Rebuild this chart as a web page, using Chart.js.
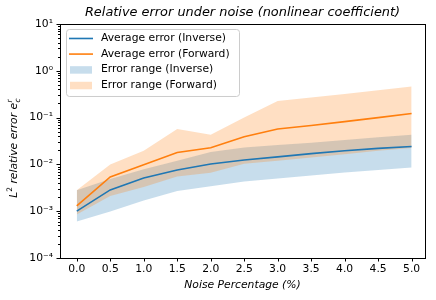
<!DOCTYPE html>
<html>
<head>
<meta charset="utf-8">
<script src="https://cdn.jsdelivr.net/npm/chart.js@4/dist/chart.umd.min.js"></script>
<style>
  html, body { margin: 0; padding: 0; background: #fff; }
</style>
</head>
<body>
<canvas id="chart" width="436" height="300"></canvas>
<script>
// =======================
// DATA
// =======================
const noise = [0, 0.5, 1.0, 1.5, 2.0, 2.5, 3.0, 3.5, 4.0, 4.5, 5.0];
const xTickLabels = ['0.0', '0.5', '1.0', '1.5', '2.0', '2.5', '3.0', '3.5', '4.0', '4.5', '5.0'];

const invMean  = [1.0e-3, 2.85e-3, 5.1e-3, 7.6e-3, 1.02e-2, 1.24e-2, 1.45e-2, 1.7e-2, 1.95e-2, 2.2e-2, 2.42e-2];
const invUpper = [2.8e-3, 4.9e-3, 7.9e-3, 1.2e-2, 1.85e-2, 2.3e-2, 2.6e-2, 2.9e-2, 3.3e-2, 3.8e-2, 4.3e-2];
const invLower = [6.0e-4, 9.8e-4, 1.7e-3, 2.7e-3, 3.4e-3, 4.3e-3, 5.0e-3, 5.8e-3, 6.7e-3, 7.6e-3, 8.6e-3];

const fwdMean  = [1.3e-3, 5.4e-3, 9.8e-3, 1.8e-2, 2.27e-2, 3.9e-2, 5.7e-2, 6.8e-2, 8.2e-2, 1.0e-1, 1.22e-1];
const fwdUpper = [2.8e-3, 1.0e-2, 1.95e-2, 5.7e-2, 4.3e-2, 1.0e-1, 2.25e-1, 2.7e-1, 3.2e-1, 3.85e-1, 4.6e-1];
const fwdLower = [8.5e-4, 2.1e-3, 3.3e-3, 5.5e-3, 6.6e-3, 1.03e-2, 1.2e-2, 1.4e-2, 1.65e-2, 1.95e-2, 2.25e-2];

const yTickValues = [1e-4, 1e-3, 1e-2, 1e-1, 1e0, 1e1];
const yTickLabels = ['10\u207B\u2074', '10\u207B\u00B3', '10\u207B\u00B2', '10\u207B\u00B9', '10\u2070', '10\u00B9'];

const BLUE = '#1f77b4';
const ORANGE = '#ff7f0e';
const BLUE_FILL = 'rgba(31,119,180,0.25)';
const ORANGE_FILL = 'rgba(255,127,14,0.25)';
const FONT = "'DejaVu Sans', sans-serif";
const FS = 10.75;   // base font size
const SS = 7.5;     // sub/superscript size

function pts(arr) {
    return noise.map((x, i) => ({ x: x, y: arr[i] }));
}

// =======================
// PLUGINS: frame, ticks, legend, y title
// =======================
const decor = {
    id: 'decor',
    afterDraw(chart) {
        const ctx = chart.ctx;
        const a = chart.chartArea;
        const xs = chart.scales.x, ys = chart.scales.y;
        ctx.save();
        ctx.strokeStyle = '#000';
        ctx.lineWidth = 1;

        // tick marks (major longer than minor)
        ctx.beginPath();
        xs.ticks.forEach(t => {
            const px = Math.round(xs.getPixelForValue(t.value)) + 0.5;
            ctx.moveTo(px, a.bottom);
            ctx.lineTo(px, a.bottom + 3.5);
        });
        ys.ticks.forEach(t => {
            const py = Math.round(ys.getPixelForValue(t.value)) + 0.5;
            const len = t.major ? 3.5 : 2;
            ctx.moveTo(a.left - len, py);
            ctx.lineTo(a.left, py);
        });
        ctx.stroke();

        // frame
        ctx.strokeRect(Math.round(a.left) + 0.5, Math.round(a.top) + 0.5,
            Math.round(a.right - a.left), Math.round(a.bottom - a.top));

        // legend
        const lx = a.left + 6, ly = a.top + 5, lw = 173, lh = 67;
        ctx.beginPath();
        ctx.roundRect(lx + 0.5, ly + 0.5, lw, lh, 3);
        ctx.fillStyle = 'rgba(255,255,255,0.8)';
        ctx.fill();
        ctx.strokeStyle = '#cccccc';
        ctx.stroke();

        const items = chart.data.datasets.filter(d => d.label);
        ctx.font = FS + 'px ' + FONT;
        ctx.textBaseline = 'middle';
        ctx.textAlign = 'left';
        items.forEach((d, i) => {
            const cy = ly + 9.5 + i * 15.6;
            if (d.legendPatch) {
                ctx.fillStyle = d.backgroundColor;
                ctx.fillRect(lx + 4, cy - 3.5, 22, 7.5);
            } else {
                ctx.strokeStyle = d.borderColor;
                ctx.lineWidth = 1.6;
                ctx.beginPath();
                ctx.moveTo(lx + 3, cy);
                ctx.lineTo(lx + 27, cy);
                ctx.stroke();
            }
            ctx.fillStyle = '#000';
            ctx.fillText(d.label, lx + 35, cy);
        });

        // y axis title: L^2 relative error e_c^r
        const segs = [
            { t: 'L', f: 'italic ' + FS + 'px ' + FONT, dy: 0 },
            { t: '2', f: SS + 'px ' + FONT, dy: -4.8 },
            { t: ' relative error ', f: 'italic ' + FS + 'px ' + FONT, dy: 0 },
            { t: 'e', f: 'italic ' + FS + 'px ' + FONT, dy: 0 }
        ];
        const small = 'italic ' + SS + 'px ' + FONT;
        let total = 0;
        segs.forEach(s => { ctx.font = s.f; s.w = ctx.measureText(s.t).width; total += s.w; });
        ctx.font = small;
        const subW = Math.max(ctx.measureText('c').width, ctx.measureText('r').width);
        total += subW + 0.5;

        ctx.translate(17, 148);
        ctx.rotate(-Math.PI / 2);
        ctx.fillStyle = '#000';
        ctx.textBaseline = 'alphabetic';
        let x = -total / 2;
        segs.forEach(s => {
            ctx.font = s.f;
            ctx.fillText(s.t, x, s.dy);
            x += s.w;
        });
        ctx.font = small;
        ctx.fillText('r', x + 0.5, -4.8);
        ctx.fillText('c', x + 0.5, 2.6);
        ctx.restore();
    }
};

// =======================
// CHART
// =======================
const ctx = document.getElementById('chart').getContext('2d');

new Chart(ctx, {
    type: 'line',
    data: {
        datasets: [
            {
                label: 'Average error (Inverse)',
                data: pts(invMean),
                borderColor: BLUE,
                borderWidth: 1.6,
                pointRadius: 0,
                fill: false,
                order: 1
            },
            {
                label: 'Average error (Forward)',
                data: pts(fwdMean),
                borderColor: ORANGE,
                borderWidth: 1.6,
                pointRadius: 0,
                fill: false,
                order: 0
            },
            {
                label: 'Error range (Inverse)',
                legendPatch: true,
                data: pts(invUpper),
                borderColor: 'rgba(0,0,0,0)',
                borderWidth: 0,
                backgroundColor: BLUE_FILL,
                pointRadius: 0,
                fill: 3,
                order: 3
            },
            {
                data: pts(invLower),
                borderColor: 'rgba(0,0,0,0)',
                borderWidth: 0,
                pointRadius: 0,
                fill: false,
                order: 4
            },
            {
                label: 'Error range (Forward)',
                legendPatch: true,
                data: pts(fwdUpper),
                borderColor: 'rgba(0,0,0,0)',
                borderWidth: 0,
                backgroundColor: ORANGE_FILL,
                pointRadius: 0,
                fill: 5,
                order: 2
            },
            {
                data: pts(fwdLower),
                borderColor: 'rgba(0,0,0,0)',
                borderWidth: 0,
                pointRadius: 0,
                fill: false,
                order: 4
            }
        ]
    },
    options: {
        responsive: false,
        animation: false,
        layout: { padding: { left: 0, right: 11, top: 0, bottom: 0 } },
        elements: { line: { tension: 0 } },
        plugins: {
            legend: { display: false },
            tooltip: { enabled: false },
            title: {
                display: true,
                fullSize: false,
                text: 'Relative error under noise (nonlinear coefficient)',
                color: '#000',
                font: { family: FONT, size: 12.9, style: 'italic', weight: 'normal' },
                padding: { top: 4.5, bottom: 4 }
            }
        },
        scales: {
            x: {
                type: 'linear',
                min: -0.25,
                max: 5.2,
                border: { display: false },
                grid: { display: false, drawTicks: false },
                afterBuildTicks: scale => {
                    scale.ticks = noise.map(v => ({ value: v }));
                },
                afterFit: scale => { scale.height = 42; },
                ticks: {
                    autoSkip: false,
                    maxRotation: 0,
                    padding: 5,
                    color: '#000',
                    font: { family: FONT, size: FS },
                    callback: (value, index) => xTickLabels[index]
                },
                title: {
                    display: true,
                    text: 'Noise Percentage (%)',
                    color: '#000',
                    font: { family: FONT, size: FS, style: 'italic' },
                    padding: { top: 0, bottom: 8.5 }
                }
            },
            y: {
                type: 'logarithmic',
                min: 1e-4,
                max: 10,
                border: { display: false },
                grid: { display: false, drawTicks: false },
                afterBuildTicks: scale => {
                    const t = [];
                    for (let k = 0; k < yTickValues.length - 1; k++) {
                        for (let m = 1; m <= 9; m++) {
                            t.push({ value: m * yTickValues[k], major: m === 1 });
                        }
                    }
                    t.push({ value: yTickValues[yTickValues.length - 1], major: true });
                    scale.ticks = t;
                },
                afterFit: scale => { scale.width = 60; },
                ticks: {
                    autoSkip: false,
                    padding: 7,
                    color: '#000',
                    font: { family: FONT, size: FS },
                    callback: (value, index, ticks) => {
                        const k = yTickValues.indexOf(value);
                        return (ticks[index].major && k >= 0) ? yTickLabels[k] : '';
                    }
                }
            }
        }
    },
    plugins: [decor]
});
</script>
</body>
</html>
